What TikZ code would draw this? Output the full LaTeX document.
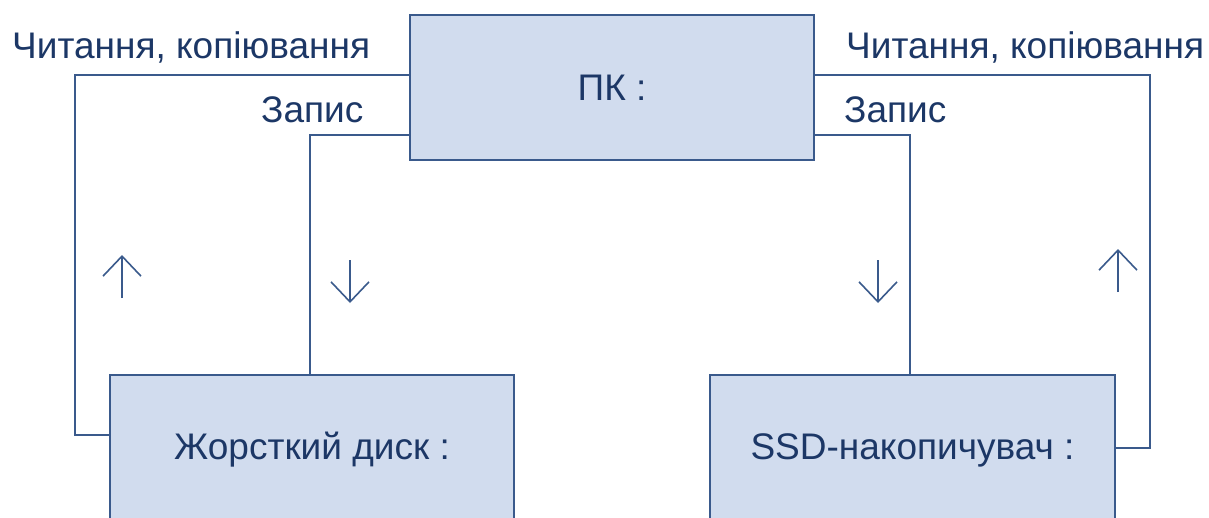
\documentclass[tikz,border=0pt]{standalone}
\usepackage{fontspec}
\setmainfont{Liberation Sans}
\usetikzlibrary{arrows.meta}
\definecolor{boxfill}{HTML}{D1DCEE}
\definecolor{edge}{HTML}{3A5A8C}
\definecolor{ink}{HTML}{1C3766}
\begin{document}
\begin{tikzpicture}[x=1pt,y=-1pt,
  unit/.style={draw=edge, line width=2pt, fill=boxfill, inner sep=0pt,
    text=ink, font=\fontsize{37}{41}\selectfont},
  label/.style={text=ink, inner sep=0pt, font=\fontsize{37}{41}\selectfont},
  link/.style={draw=edge, line width=2pt},
  glyph/.style={draw=edge, line width=1.6pt,
    -{Straight Barb[length=20pt,width=38pt,line width=1.6pt]}}]
  \useasboundingbox (0,0) rectangle (1209,517);
  \clip (0,0) rectangle (1209,517);
  \fill[white] (0,0) rectangle (1209,517);

  % units
  \node[unit, minimum width=404pt, minimum height=145pt] (pc)  at (612,87.5) {ПК :};
  \node[unit, minimum width=404pt, minimum height=150pt] (hdd) at (312,450) {Жорсткий диск :};
  \node[unit, minimum width=405pt, minimum height=150pt] (ssd) at (912.5,450) {SSD-накопичувач :};

  % side labels
  \node[label, anchor=base west] (rdL) at (12,58)  {Читання, копіювання};
  \node[label, anchor=base west] (wrL) at (261,122) {Запис};
  \node[label, anchor=base west] (rdR) at (846,58)  {Читання, копіювання};
  \node[label, anchor=base west] (wrR) at (844,122) {Запис};

  % read paths (outer)
  \draw[link] ([yshift=12.5pt]pc.west) -| ([xshift=-34pt,yshift=15pt]hdd.west) -- ([yshift=15pt]hdd.west);
  \draw[link] ([yshift=12.5pt]pc.east) -| ([xshift=34pt,yshift=2pt]ssd.east) -- ([yshift=2pt]ssd.east);
  % write paths (inner)
  \draw[link] ([yshift=-47.5pt]pc.west) -| ([xshift=-2pt]hdd.north);
  \draw[link] ([yshift=-47.5pt]pc.east) -| ([xshift=-2.5pt]ssd.north);

  % direction marks
  \coordinate (a1s) at (122,298); \coordinate (a1e) at (122,255);
  \coordinate (a2s) at (350,260); \coordinate (a2e) at (350,303);
  \coordinate (a3s) at (878,260); \coordinate (a3e) at (878,303);
  \coordinate (a4s) at (1118,292); \coordinate (a4e) at (1118,249);
  \draw[glyph] (a1s) -- (a1e);
  \draw[glyph] (a2s) -- (a2e);
  \draw[glyph] (a3s) -- (a3e);
  \draw[glyph] (a4s) -- (a4e);
\end{tikzpicture}
\end{document}
